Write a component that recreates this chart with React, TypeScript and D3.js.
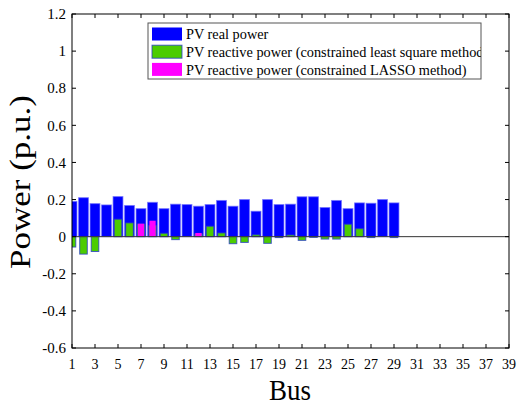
import React from "react";
import * as d3 from "d3";

const buses = d3.range(1, 30);
const realPower = [0.19, 0.21, 0.178, 0.171, 0.216, 0.168, 0.151, 0.185, 0.151, 0.175,
  0.173, 0.164, 0.173, 0.195, 0.164, 0.2, 0.137, 0.2, 0.173, 0.175,
  0.215, 0.215, 0.157, 0.195, 0.151, 0.182, 0.18, 0.2, 0.182];
const reactiveLS = [-0.056, -0.094, -0.08, 0, 0.094, 0.074, 0.068, 0.06, 0.018, -0.016,
  0, 0.015, 0.056, 0.02, -0.038, -0.031, 0.01, -0.036, -0.005, 0.009,
  -0.02, -0.004, -0.013, -0.013, 0.067, 0.043, -0.005, 0, -0.005];
const reactiveLasso = [0, 0, 0, 0, 0, 0, 0.07, 0.086, 0, 0,
  0, 0.02, 0, 0, 0, 0, 0, 0, 0, 0,
  0, 0, 0, 0, 0, 0, 0, 0, 0];
const xTicks = d3.range(1, 40, 2);
const yTicks = [-0.6, -0.4, -0.2, 0, 0.2, 0.4, 0.6, 0.8, 1, 1.2];
const legendLabels = [
  "PV real power",
  "PV reactive power (constrained least square method)",
  "PV reactive power (constrained LASSO method)",
];

export default function App() {
  const W = 518, H = 406;
  const L = 72, R = 509, T = 14, B = 348;
  const x = d3.scaleLinear().domain([1, 39]).range([L, R]);
  const y = d3.scaleLinear().domain([-0.6, 1.2]).range([B, T]);
  const step = x(2) - x(1);
  const font = "'Liberation Serif', 'Times New Roman', serif";
  const bar = (v: number, b: number, w: number) => {
    const y0 = y(0), y1 = y(v);
    return { x: x(b) - w / 2, y: Math.min(y0, y1), w, h: Math.abs(y1 - y0) };
  };
  const wBlue = step * 0.86, wGreen = step * 0.66, wMag = step * 0.55;
  const legendColors = ["#0000ff", "#4ccc00", "#ff00ff"];
  const tickFs = 14;
  return (
    <svg width={W} height={H} style={{ position: "absolute", left: 0, top: 0, background: "#fff" }}
      fontFamily={font}>
      <defs>
        <clipPath id="plot"><rect x={L} y={T} width={R - L} height={B - T} /></clipPath>
        <clipPath id="leg"><rect x={148} y={23} width={333} height={56} /></clipPath>
      </defs>
      <rect x={0} y={0} width={W} height={H} fill="#fff" />
      <g clipPath="url(#plot)">
        {buses.map((b, i) => {
          const r = bar(realPower[i], b, wBlue);
          return <rect key={"b" + b} x={r.x} y={r.y} width={r.w} height={r.h}
            fill="#0000ff" stroke="rgba(110,110,255,0.7)" strokeWidth={1} />;
        })}
        {buses.map((b, i) => {
          if (reactiveLS[i] === 0) return null;
          const r = bar(reactiveLS[i], b, wGreen);
          return <rect key={"g" + b} x={r.x} y={r.y} width={r.w} height={r.h}
            fill="#4ccc00" stroke="rgba(40,60,200,0.8)" strokeWidth={1} />;
        })}
        {buses.map((b, i) => {
          if (reactiveLasso[i] === 0) return null;
          const r = bar(reactiveLasso[i], b, wMag);
          return <rect key={"m" + b} x={r.x} y={r.y} width={r.w} height={r.h}
            fill="#ff00ff" stroke="none" />;
        })}
        <line x1={L} x2={R} y1={y(0)} y2={y(0)} stroke="#333" strokeWidth={1} />
      </g>
      <rect x={L} y={T} width={R - L} height={B - T} fill="none" stroke="#000" strokeWidth={1} />
      {yTicks.map((t) => (
        <g key={"yt" + t}>
          <line x1={L} x2={L + 4} y1={y(t)} y2={y(t)} stroke="#000" />
          <line x1={R} x2={R - 4} y1={y(t)} y2={y(t)} stroke="#000" />
          <text x={L - 6} y={y(t)} dy="0.35em" textAnchor="end" fontSize={15}>{String(t)}</text>
        </g>
      ))}
      {xTicks.map((t) => (
        <g key={"xt" + t}>
          <line x1={x(t)} x2={x(t)} y1={B} y2={B - 4} stroke="#000" />
          <line x1={x(t)} x2={x(t)} y1={T} y2={T + 4} stroke="#000" />
          <text x={x(t)} y={369} textAnchor="middle" fontSize={tickFs}>{t}</text>
        </g>
      ))}
      <text transform="translate(290,400) scale(0.93,1)" textAnchor="middle" fontSize={29}>Bus</text>
      <text transform={`translate(29.7,182) rotate(-90) scale(1,0.84)`} textAnchor="middle"
        fontSize={35}>Power (p.u.)</text>
      <rect x={148} y={23} width={333} height={56} fill="#fff" stroke="#555" strokeWidth={1} />
      <g clipPath="url(#leg)">
        {legendLabels.map((lab, i) => (
          <g key={lab}>
            <rect x={152} y={27.5 + i * 17.7} width={30} height={13} fill={legendColors[i]}
              stroke={i === 1 ? "rgba(40,60,200,0.8)" : "none"} />
            <text x={186} y={34.3 + i * 17.8} dy="0.35em" fontSize={14.3}>{lab}</text>
          </g>
        ))}
      </g>
    </svg>
  );
}
